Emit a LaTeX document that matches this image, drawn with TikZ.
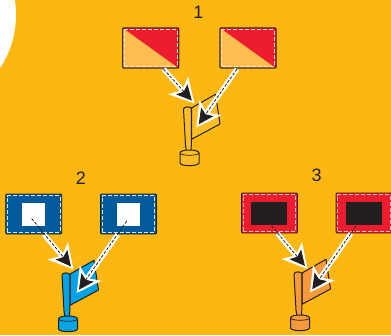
\documentclass[tikz,border=0pt]{standalone}
\usepackage{fontspec}
\setmainfont{Liberation Sans}
\usepackage{tikz}
\usetikzlibrary{arrows.meta}

\definecolor{ground}{HTML}{FDB713}
\definecolor{signred}{HTML}{ED1C2E}
\definecolor{signpale}{HTML}{FFBE4D}
\definecolor{signblue}{HTML}{005A9C}
\definecolor{flagblue}{HTML}{00A4E4}
\definecolor{flagorange}{HTML}{F79A3A}
\definecolor{inkdark}{HTML}{231F20}

\tikzset{
  signbox/.style={draw=inkdark,line width=0.8pt,rounded corners=1pt,minimum width=56pt,minimum height=40pt,inner sep=0pt},
  stitchbox/.style={draw=#1,line width=0.7pt,dash pattern=on 4pt off 2pt,minimum width=52.5pt,minimum height=36.5pt,inner sep=0pt},
  patchbox/.style={minimum width=#1,minimum height=23.5pt,inner sep=0pt},
  numlabel/.style={font=\fontsize{18}{18}\selectfont,text=inkdark,inner sep=0pt},
  wideshaft/.style={draw=white,line width=5pt,-{Stealth[length=24pt,width=26pt,inset=6pt,fill=white]}},
  fineshaft/.style={draw=inkdark,line width=0.8pt,dash pattern=on 3pt off 1.6pt,shorten >=4pt,-{Stealth[length=15pt,width=15pt,inset=3pt,fill=inkdark]}},
  flagmark/.pic={
    \filldraw[fill=#1,draw=inkdark,line width=1pt,line join=round]
      (8,1) -- (32,-12.7) -- (36.5,17) -- (8,32.3) -- cycle;
    \filldraw[fill=#1,draw=inkdark,line width=1pt,line join=round]
      (0,2) .. controls (0,-0.8) and (8,-0.8) .. (8,2) -- (7.8,38) -- (7.4,45) -- (3,45) -- (2,38) -- cycle;
    \filldraw[fill=#1,draw=inkdark,line width=1pt]
      (-3.5,46) .. controls (-3.5,42) and (15.5,42) .. (15.5,46) -- (15.5,56) .. controls (15,59.5) and (-3,59.5) .. (-3.5,56) -- cycle;
    \draw[inkdark,line width=0.7pt] (-3.5,46) .. controls (-3,49) and (15,49) .. (15.5,46);
  }
}

\begin{document}
\begin{tikzpicture}[x=1pt,y=-1pt]
    \useasboundingbox (0,0) rectangle (391,335);
    \clip (0,0) rectangle (391,335);
    \fill[ground] (0,0) rectangle (391,335);
    \fill[white] (-80,15) circle[radius=96];

    % Set 1
    \node[numlabel] (num1) at (198.5,12.5) {1};
    \node[signbox,fill=signpale] (s1a) at (150.7,48) {};
    \node[signbox,fill=signpale] (s1b) at (248,48) {};
    \fill[signred] (s1a.north west) -- (s1a.north east) -- (s1a.south east) -- cycle;
    \fill[signred] (s1b.north west) -- (s1b.north east) -- (s1b.south east) -- cycle;
    \node[signbox] at (s1a) {};
    \node[signbox] at (s1b) {};
    \node[stitchbox=white!85!signred] at (s1a) {};
    \node[stitchbox=white!85!signred] at (s1b) {};
    \pic at (183.5,107) {flagmark=ground!92!white};
    \coordinate (b1a) at (163.5,69);
    \coordinate (b1b) at (237,69);
    \coordinate (t1a) at (194.5,103.5);
    \coordinate (t1b) at (196.5,127.5);
    \draw[wideshaft] (b1a) -- (t1a);
    \draw[wideshaft] (b1b) -- (t1b);
    \draw[fineshaft] (b1a) -- (t1a);
    \draw[fineshaft] (b1b) -- (t1b);

    % Set 2
    \node[numlabel] (num2) at (81,178.5) {2};
    \node[signbox,fill=signblue] (s2a) at (33.7,214) {};
    \node[signbox,fill=signblue] (s2b) at (128.5,214) {};
    \node[stitchbox=white!85!signblue] at (s2a) {};
    \node[stitchbox=white!85!signblue] at (s2b) {};
    \node[patchbox=23pt,fill=white] (p2a) at (33.5,214.3) {};
    \node[patchbox=23pt,fill=white] (p2b) at (128.5,214.3) {};
    \pic at (62,273) {flagmark=flagblue};
    \coordinate (b2a) at (44,234.5);
    \coordinate (b2b) at (117.7,234.5);
    \coordinate (d2a) at (31.7,218.5);
    \coordinate (d2b) at (126.7,221);
    \coordinate (t2a) at (73.5,269.5);
    \coordinate (t2b) at (76.7,293);
    \draw[wideshaft] (b2a) -- (t2a);
    \draw[wideshaft] (b2b) -- (t2b);
    \draw[fineshaft] (d2a) -- (t2a);
    \draw[fineshaft] (d2b) -- (t2b);

    % Set 3
    \node[numlabel] (num3) at (316.7,175.7) {3};
    \node[signbox,fill=signred] (s3a) at (269.5,213) {};
    \node[signbox,fill=signred] (s3b) at (364,213) {};
    \node[stitchbox=white!70!signred] at (s3a) {};
    \node[stitchbox=white!70!signred] at (s3b) {};
    \node[patchbox=36pt,fill=inkdark] (p3a) at (269,213.3) {};
    \node[patchbox=36pt,fill=inkdark] (p3b) at (364,213.3) {};
    \pic at (294,272) {flagmark=flagorange};
    \coordinate (b3a) at (277.5,233.5);
    \coordinate (b3b) at (351,233.5);
    \coordinate (d3a) at (271.7,226);
    \coordinate (d3b) at (356,226);
    \coordinate (t3a) at (307.5,269);
    \coordinate (t3b) at (310,292.5);
    \draw[wideshaft] (b3a) -- (t3a);
    \draw[wideshaft] (b3b) -- (t3b);
    \draw[fineshaft] (d3a) -- (t3a);
    \draw[fineshaft] (d3b) -- (t3b);
\end{tikzpicture}
\end{document}
